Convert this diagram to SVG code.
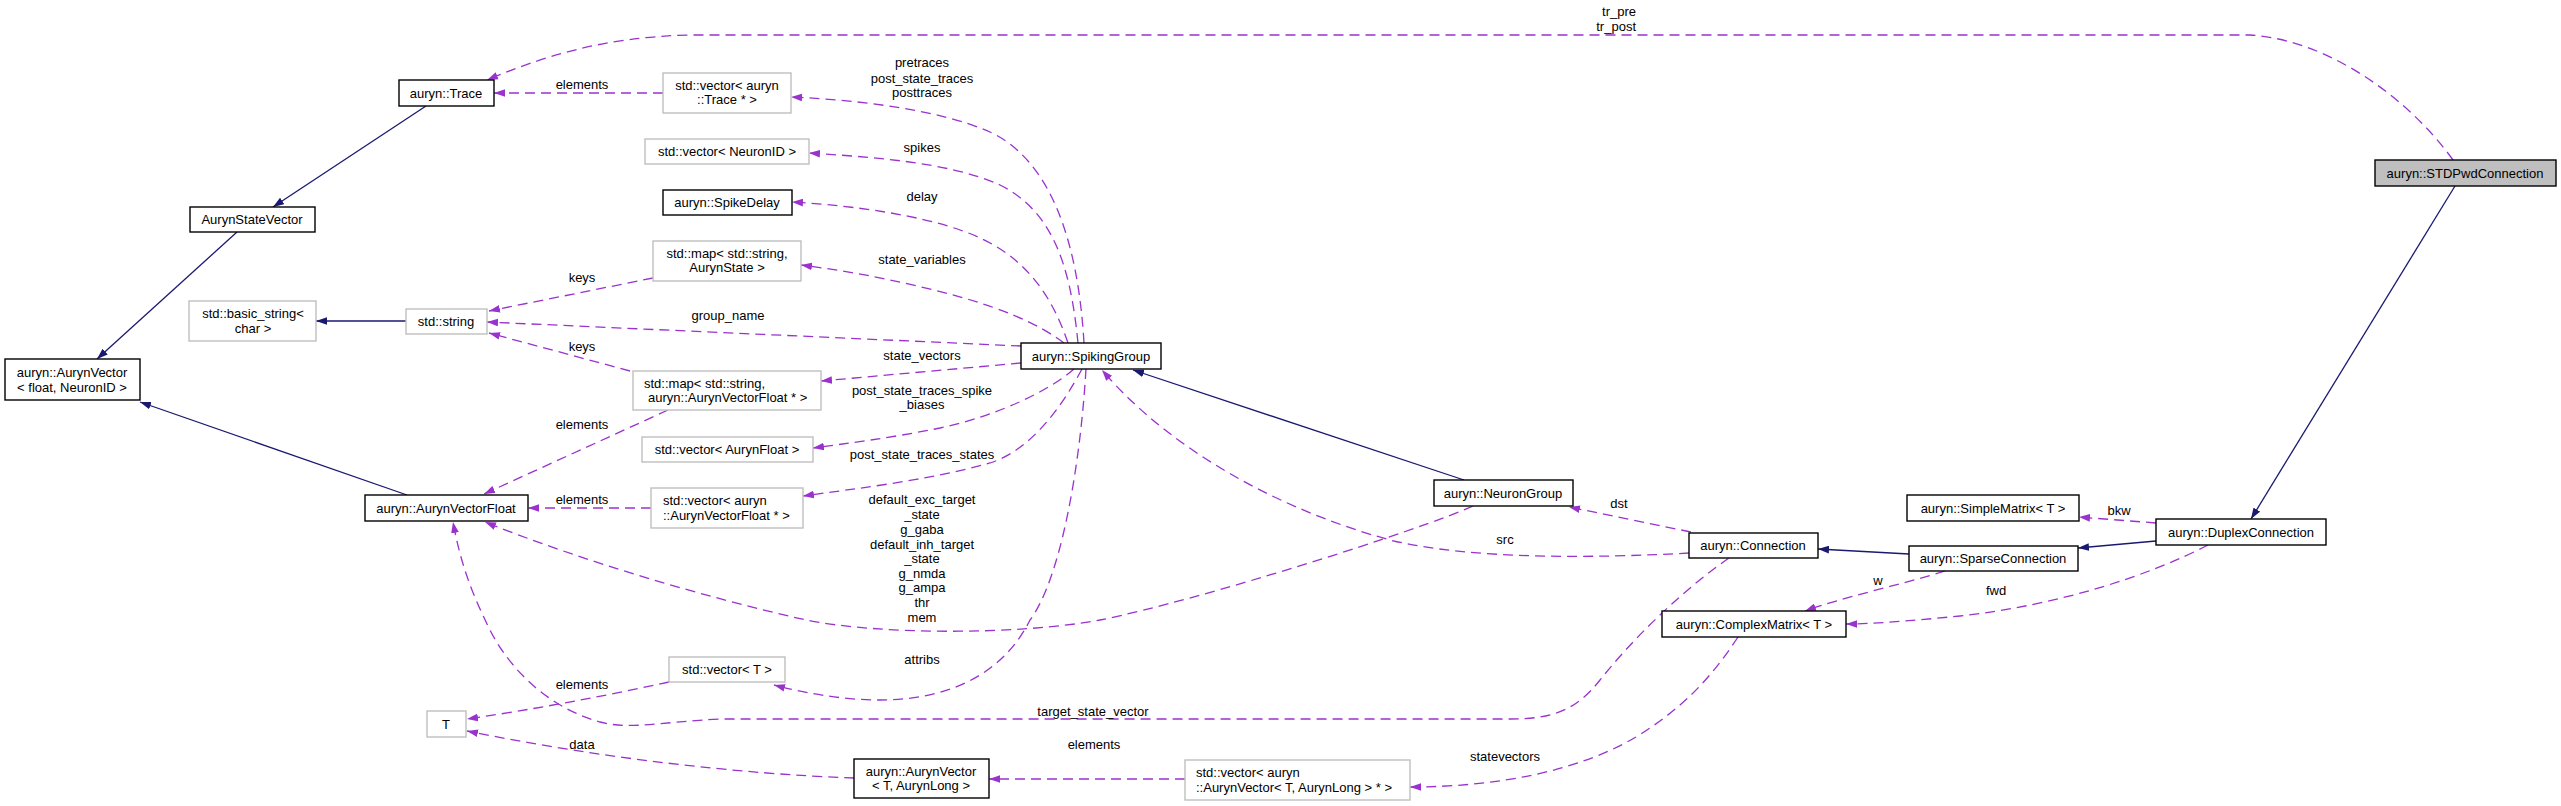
<svg xmlns="http://www.w3.org/2000/svg" width="2561" height="806" viewBox="0 0 2561 806">
<style>
text{font-family:"Liberation Sans",Arial,Helvetica,sans-serif;font-size:13px;fill:#000}
.c{text-anchor:middle}
.s{text-anchor:start}
.e{text-anchor:end}
.nb rect{fill:#fff;stroke:#000;stroke-width:1.4}
.ng rect{fill:#fff;stroke:#bfbfbf;stroke-width:1.4}
.nf rect{fill:#bfbfbf;stroke:#000;stroke-width:1.4}
.inh{fill:none;stroke:#191970;stroke-width:1.3;marker-end:url(#an)}
.use{fill:none;stroke:#9a32cd;stroke-width:1.3;stroke-dasharray:10,6;marker-end:url(#ap)}
</style>
<defs>
<marker id="an" viewBox="0 0 10 7" refX="10" refY="3.5" markerWidth="11" markerHeight="8" markerUnits="userSpaceOnUse" orient="auto"><path d="M0,0L10,3.5L0,7z" fill="#191970"/></marker>
<marker id="ap" viewBox="0 0 10 7" refX="10" refY="3.5" markerWidth="11" markerHeight="8" markerUnits="userSpaceOnUse" orient="auto"><path d="M0,0L10,3.5L0,7z" fill="#9a32cd"/></marker>
</defs>
<rect width="2561" height="806" fill="#fff"/>
<g id="edges">
<path class="inh" d="M426,106L273,207"/>
<path class="inh" d="M237,232L97,359"/>
<path class="inh" d="M407,495L140,402"/>
<path class="inh" d="M406,321L316,321"/>
<path class="inh" d="M1464,480L1133,370"/>
<path class="inh" d="M1909,554L1818,549"/>
<path class="inh" d="M2156,541L2078,548"/>
<path class="inh" d="M2455,186L2251,519"/>
<path class="use" d="M2453,160C2410,100 2330,40 2250,35L690,35C600,37 540,58 487,80"/>
<path class="use" d="M663,93L494,93"/>
<path class="use" d="M1084,343C1078,240 1050,160 990,132C940,110 860,100 791,97"/>
<path class="use" d="M1078,343C1070,260 1050,210 1000,185C950,162 870,157 809,153"/>
<path class="use" d="M1068,343C1050,290 1020,250 960,230C920,216 860,206 792,202"/>
<path class="use" d="M1064,343C1040,325 1000,305 921,287C880,277 840,270 801,265"/>
<path class="use" d="M1021,346L487,322"/>
<path class="use" d="M653,278L489,311"/>
<path class="use" d="M630,371L489,333"/>
<path class="use" d="M1021,363L821,381"/>
<path class="use" d="M1074,369C1050,390 1000,415 940,428C890,438 850,443 813,448"/>
<path class="use" d="M1082,369C1060,410 1030,450 990,463C930,480 860,488 803,496"/>
<path class="use" d="M1086,369C1080,470 1060,580 1030,620C1000,680 940,700 880,700C840,700 800,692 774,685"/>
<path class="use" d="M668,410L484,494"/>
<path class="use" d="M651,508L528,508"/>
<path class="use" d="M669,682C600,697 530,710 467,719"/>
<path class="use" d="M854,778C740,774 600,758 467,731"/>
<path class="use" d="M1185,779L989,779"/>
<path class="use" d="M1473,506C1420,530 1200,600 1100,620C1020,635 880,635 806,620C700,596 580,560 485,522"/>
<path class="use" d="M1689,553C1600,558 1470,560 1390,540C1280,510 1170,450 1102,370"/>
<path class="use" d="M1729,558C1690,585 1640,630 1600,680C1575,712 1550,719 1510,719L720,719C660,722 630,730 600,722C540,705 505,660 490,630C470,590 460,560 453,522"/>
<path class="use" d="M1738,637C1710,680 1680,710 1636,737C1580,770 1500,787 1410,787"/>
<path class="use" d="M1691,532L1569,507"/>
<path class="use" d="M1945,571C1900,585 1840,598 1805,611"/>
<path class="use" d="M2208,545C2150,575 2060,605 1960,616C1910,621 1870,624 1846,624"/>
<path class="use" d="M2156,523L2079,517"/>
</g>
<g id="edge-labels">
<text class="e" x="1636" y="16">tr_pre</text>
<text class="e" x="1636" y="31">tr_post</text>
<text class="c" x="582" y="89">elements</text>
<text class="c" x="922" y="67">pretraces</text>
<text class="c" x="922" y="83">post_state_traces</text>
<text class="c" x="922" y="97">posttraces</text>
<text class="c" x="922" y="152">spikes</text>
<text class="c" x="922" y="201">delay</text>
<text class="c" x="922" y="264">state_variables</text>
<text class="c" x="582" y="282">keys</text>
<text class="c" x="728" y="320">group_name</text>
<text class="c" x="582" y="351">keys</text>
<text class="c" x="922" y="360">state_vectors</text>
<text class="c" x="922" y="395">post_state_traces_spike</text>
<text class="c" x="922" y="409">_biases</text>
<text class="c" x="582" y="429">elements</text>
<text class="c" x="922" y="459">post_state_traces_states</text>
<text class="c" x="582" y="504">elements</text>
<text class="c" x="922" y="504">default_exc_target</text>
<text class="c" x="922" y="519">_state</text>
<text class="c" x="922" y="534">g_gaba</text>
<text class="c" x="922" y="549">default_inh_target</text>
<text class="c" x="922" y="563">_state</text>
<text class="c" x="922" y="578">g_nmda</text>
<text class="c" x="922" y="592">g_ampa</text>
<text class="c" x="922" y="607">thr</text>
<text class="c" x="922" y="622">mem</text>
<text class="c" x="922" y="664">attribs</text>
<text class="c" x="582" y="689">elements</text>
<text class="c" x="1093" y="716">target_state_vector</text>
<text class="c" x="582" y="749">data</text>
<text class="c" x="1094" y="749">elements</text>
<text class="c" x="1505" y="544">src</text>
<text class="c" x="1619" y="508">dst</text>
<text class="c" x="1505" y="761">statevectors</text>
<text class="c" x="2119" y="515">bkw</text>
<text class="c" x="1878" y="585">w</text>
<text class="c" x="1996" y="595">fwd</text>
</g>
<g id="STDPwdConnection" class="nf"><rect x="2375" y="160" width="181" height="26"/><text class="c" x="2465" y="177.5">auryn::STDPwdConnection</text></g>
<g id="Trace" class="nb"><rect x="399" y="80" width="95" height="26"/><text class="c" x="446" y="97.5">auryn::Trace</text></g>
<g id="AurynStateVector" class="nb"><rect x="190" y="207" width="125" height="25"/><text class="c" x="252" y="224">AurynStateVector</text></g>
<g id="AurynVectorFloatNeuronID" class="nb"><rect x="5" y="359" width="135" height="41"/><text class="c" x="72" y="376.5">auryn::AurynVector</text><text class="c" x="72" y="391.5">&lt; float, NeuronID &gt;</text></g>
<g id="basic_string" class="ng"><rect x="189" y="301" width="127" height="40"/><text class="c" x="253" y="317.5">std::basic_string&lt;</text><text class="c" x="253" y="332.5">char &gt;</text></g>
<g id="string" class="ng"><rect x="406" y="309" width="81" height="25"/><text class="c" x="446" y="325.5">std::string</text></g>
<g id="AurynVectorFloat" class="nb"><rect x="365" y="495" width="163" height="26"/><text class="c" x="446" y="512.5">auryn::AurynVectorFloat</text></g>
<g id="T" class="ng"><rect x="427" y="711" width="39" height="26"/><text class="c" x="446" y="728.5">T</text></g>
<g id="vectorTrace" class="ng"><rect x="663" y="73" width="128" height="40"/><text class="c" x="727" y="89.5">std::vector&lt; auryn</text><text class="c" x="727" y="103.5">::Trace * &gt;</text></g>
<g id="vectorNeuronID" class="ng"><rect x="645" y="139" width="164" height="25"/><text class="c" x="727" y="155.5">std::vector&lt; NeuronID &gt;</text></g>
<g id="SpikeDelay" class="nb"><rect x="663" y="190" width="129" height="25"/><text class="c" x="727" y="206.5">auryn::SpikeDelay</text></g>
<g id="mapAurynState" class="ng"><rect x="653" y="241" width="148" height="40"/><text class="c" x="727" y="257.5">std::map&lt; std::string,</text><text class="c" x="727" y="271.5">AurynState &gt;</text></g>
<g id="mapAurynVectorFloat" class="ng"><rect x="633" y="371" width="188" height="39"/><text class="s" x="644" y="387.5">std::map&lt; std::string,</text><text class="s" x="648" y="401.5">auryn::AurynVectorFloat * &gt;</text></g>
<g id="vectorAurynFloat" class="ng"><rect x="642" y="437" width="171" height="25"/><text class="c" x="727" y="454">std::vector&lt; AurynFloat &gt;</text></g>
<g id="vectorAurynVectorFloat" class="ng"><rect x="651" y="488" width="152" height="40"/><text class="s" x="663" y="504.5">std::vector&lt; auryn</text><text class="s" x="663" y="519.5">::AurynVectorFloat * &gt;</text></g>
<g id="vectorT" class="ng"><rect x="669" y="657" width="116" height="25"/><text class="c" x="727" y="674">std::vector&lt; T &gt;</text></g>
<g id="SpikingGroup" class="nb"><rect x="1021" y="343" width="140" height="26"/><text class="c" x="1091" y="360.5">auryn::SpikingGroup</text></g>
<g id="NeuronGroup" class="nb"><rect x="1434" y="480" width="139" height="26"/><text class="c" x="1503" y="497.5">auryn::NeuronGroup</text></g>
<g id="Connection" class="nb"><rect x="1689" y="533" width="129" height="25"/><text class="c" x="1753" y="550">auryn::Connection</text></g>
<g id="ComplexMatrix" class="nb"><rect x="1662" y="611" width="184" height="26"/><text class="c" x="1754" y="628.5">auryn::ComplexMatrix&lt; T &gt;</text></g>
<g id="SimpleMatrix" class="nb"><rect x="1907" y="495" width="172" height="26"/><text class="c" x="1993" y="512.5">auryn::SimpleMatrix&lt; T &gt;</text></g>
<g id="SparseConnection" class="nb"><rect x="1909" y="546" width="169" height="25"/><text class="c" x="1993" y="563">auryn::SparseConnection</text></g>
<g id="DuplexConnection" class="nb"><rect x="2156" y="519" width="170" height="26"/><text class="c" x="2241" y="536.5">auryn::DuplexConnection</text></g>
<g id="AurynVectorTLong" class="nb"><rect x="854" y="759" width="135" height="39"/><text class="c" x="921" y="775.5">auryn::AurynVector</text><text class="c" x="921" y="789.5">&lt; T, AurynLong &gt;</text></g>
<g id="vectorAurynVectorTLong" class="ng"><rect x="1185" y="760" width="225" height="40"/><text class="s" x="1196" y="776.5">std::vector&lt; auryn</text><text class="s" x="1196" y="791.5">::AurynVector&lt; T, AurynLong &gt; * &gt;</text></g>
</svg>
